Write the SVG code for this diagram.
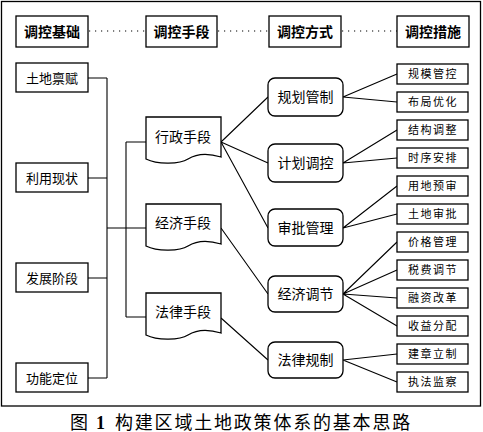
<svg xmlns="http://www.w3.org/2000/svg" width="483" height="432" viewBox="0 0 483 432">
<style>
.bx{fill:#fff;stroke:#000;stroke-width:1.3}
.ln{fill:none;stroke:#000;stroke-width:1.1}
.dot{fill:none;stroke:#000;stroke-width:1.2;stroke-dasharray:1.2 4.8}
text{font-family:"Noto Sans CJK SC","Noto Sans CJK JP",sans-serif;fill:#000;text-anchor:middle}
.h{font-size:14px;font-weight:bold}
.l{font-size:13px}
.m{font-size:14px}
.r{font-size:11px;letter-spacing:1.5px}
.cap{font-size:18px;text-anchor:start}
</style>
<defs>
<path id="doc" d="M0,0 H75 V40 C62,36 50,37 42,42 C34,47 12,48 0,42 Z"/>
</defs>
<rect width="483" height="432" fill="#fff"/>
<rect x="1.5" y="1.5" width="479" height="404.5" fill="none" stroke="#000" stroke-width="1.3"/>

<g id="connectors">
<line class="dot" x1="89" y1="31" x2="146" y2="31"/>
<line class="dot" x1="218" y1="31" x2="269" y2="31"/>
<line class="dot" x1="342" y1="31" x2="397" y2="31"/>
<path class="ln" d="M88,78 H107 M88,178 H107 M88,278 H107 M88,378 H107 M107,78 V378 M107,228 H146 M126,142 V317 M126,142 H146 M126,317 H146"/>
<path class="ln" d="M221,142 L268,97 M221,142 L268,163 M221,142 L268,228 M221,228 L268,294 M221,318 L268,360"/>
<path class="ln" d="M343,97 L397,74 M343,97 L397,102 M343,163 L397,130 M343,163 L397,158 M343,228 L397,186 M343,228 L397,214 M343,294 L397,242 M343,294 L397,270 M343,294 L397,298 M343,294 L397,326 M343,360 L397,354 M343,360 L397,382"/>
</g>

<g id="h1"><rect class="bx" x="16" y="16" width="72" height="31"/><text class="h" x="52" y="36.5">调控基础</text></g>
<g id="h2"><rect class="bx" x="146" y="16" width="71" height="31"/><text class="h" x="181.5" y="36.5">调控手段</text></g>
<g id="h3"><rect class="bx" x="269" y="16" width="72" height="31"/><text class="h" x="305" y="36.5">调控方式</text></g>
<g id="h4"><rect class="bx" x="397" y="16" width="72" height="31"/><text class="h" x="433" y="36.5">调控措施</text></g>

<g id="b1"><rect class="bx" x="16" y="63" width="72" height="29"/><text class="l" x="52" y="82.5">土地禀赋</text></g>
<g id="b2"><rect class="bx" x="16" y="163" width="72" height="29"/><text class="l" x="52" y="182.5">利用现状</text></g>
<g id="b3"><rect class="bx" x="16" y="263" width="72" height="29"/><text class="l" x="52" y="282.5">发展阶段</text></g>
<g id="b4"><rect class="bx" x="16" y="363" width="72" height="29"/><text class="l" x="52" y="382.5">功能定位</text></g>

<g id="d1"><use href="#doc" class="bx" x="146" y="117"/><text class="m" x="183" y="142">行政手段</text></g>
<g id="d2"><use href="#doc" class="bx" x="146" y="204"/><text class="m" x="183" y="228">经济手段</text></g>
<g id="d3"><use href="#doc" class="bx" x="146" y="293"/><text class="m" x="183" y="317">法律手段</text></g>

<g id="m1"><rect class="bx" x="268" y="78" width="75" height="38" rx="7"/><text class="m" x="305.5" y="102">规划管制</text></g>
<g id="m2"><rect class="bx" x="268" y="144" width="75" height="38" rx="7"/><text class="m" x="305.5" y="168">计划调控</text></g>
<g id="m3"><rect class="bx" x="268" y="209" width="75" height="37" rx="7"/><text class="m" x="305.5" y="233">审批管理</text></g>
<g id="m4"><rect class="bx" x="268" y="276" width="75" height="36" rx="7"/><text class="m" x="305.5" y="299">经济调节</text></g>
<g id="m5"><rect class="bx" x="268" y="342" width="75" height="36" rx="7"/><text class="m" x="305.5" y="365">法律规制</text></g>

<g id="r1"><rect class="bx" x="397" y="64" width="71" height="20"/><text class="r" x="433" y="78">规模管控</text></g>
<g id="r2"><rect class="bx" x="397" y="92" width="71" height="20"/><text class="r" x="433" y="106">布局优化</text></g>
<g id="r3"><rect class="bx" x="397" y="120" width="71" height="20"/><text class="r" x="433" y="134">结构调整</text></g>
<g id="r4"><rect class="bx" x="397" y="148" width="71" height="20"/><text class="r" x="433" y="162">时序安排</text></g>
<g id="r5"><rect class="bx" x="397" y="176" width="71" height="20"/><text class="r" x="433" y="190">用地预审</text></g>
<g id="r6"><rect class="bx" x="397" y="204" width="71" height="20"/><text class="r" x="433" y="218">土地审批</text></g>
<g id="r7"><rect class="bx" x="397" y="232" width="71" height="20"/><text class="r" x="433" y="246">价格管理</text></g>
<g id="r8"><rect class="bx" x="397" y="260" width="71" height="20"/><text class="r" x="433" y="274">税费调节</text></g>
<g id="r9"><rect class="bx" x="397" y="288" width="71" height="20"/><text class="r" x="433" y="302">融资改革</text></g>
<g id="r10"><rect class="bx" x="397" y="316" width="71" height="20"/><text class="r" x="433" y="330">收益分配</text></g>
<g id="r11"><rect class="bx" x="397" y="344" width="71" height="20"/><text class="r" x="433" y="358">建章立制</text></g>
<g id="r12"><rect class="bx" x="397" y="372" width="71" height="20"/><text class="r" x="433" y="386">执法监察</text></g>

<g id="caption">
<text class="cap" x="70" y="428.5">图</text>
<text class="cap" x="96" y="428.5" style="font-family:'Liberation Serif',serif;font-weight:bold">1</text>
<text class="cap" x="115" y="428.5" style="letter-spacing:1.8px">构建区域土地政策体系的基本思路</text>
</g>
</svg>
